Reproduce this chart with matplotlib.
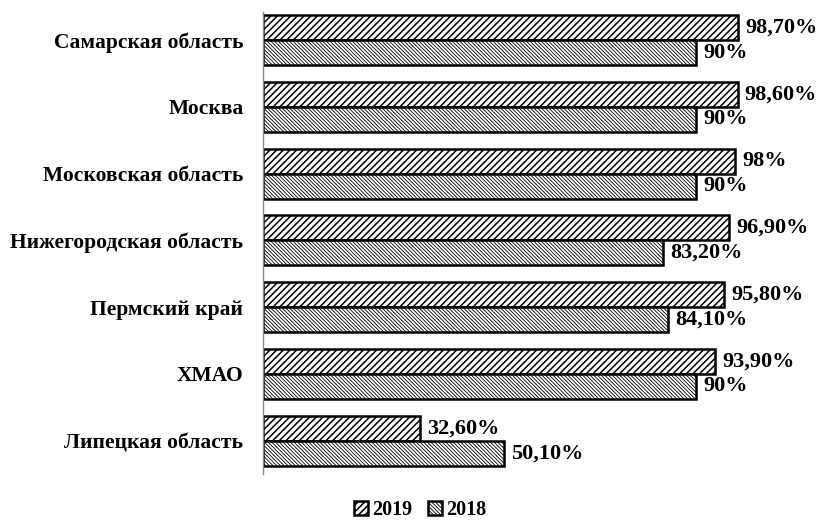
import matplotlib.pyplot as plt
import numpy as np

# regions listed top to bottom as on the chart
regions = ["Самарская область", "Москва", "Московская область",
           "Нижегородская область", "Пермский край", "ХМАО", "Липецкая область"]
vals_2019 = [98.7, 98.6, 98.0, 96.9, 95.8, 93.9, 32.6]
vals_2018 = [90.0, 90.0, 90.0, 83.2, 84.1, 90.0, 50.1]
labels_2019 = ["98,70%", "98,60%", "98%", "96,90%", "95,80%", "93,90%", "32,60%"]
labels_2018 = ["90%", "90%", "90%", "83,20%", "84,10%", "90%", "50,10%"]

plt.rcParams['font.family'] = ['Liberation Serif', 'DejaVu Serif']
plt.rcParams['font.weight'] = 'bold'
plt.rcParams['hatch.linewidth'] = 1.1

fig = plt.figure(figsize=(8.19, 5.2), dpi=100)
ax = fig.add_axes([0.321, 0.0885, 0.656, 0.888])

n = len(regions)
y = np.arange(n)[::-1]
h = 0.375

b19 = ax.barh(y + h / 2, vals_2019, height=h, color='white', edgecolor='black',
              linewidth=1.8, hatch='/////', label='2019')
b18 = ax.barh(y - h / 2, vals_2018, height=h, color='white', edgecolor='black',
              linewidth=1.8, hatch='\\' * 9, label='2018')
# thinner hatch lines for 2018 so it reads lighter
for p in b18:
    if hasattr(p, 'set_hatch_linewidth'):
        p.set_hatch_linewidth(0.6)

for yi, v, t in zip(y, vals_2019, labels_2019):
    ax.text(v + 1.5, yi + h / 2, t, va='center', ha='left', fontsize=16, fontweight='bold')
for yi, v, t in zip(y, vals_2018, labels_2018):
    ax.text(v + 1.5, yi - h / 2, t, va='center', ha='left', fontsize=16, fontweight='bold')

ax.set_xlim(0, 111.6)
ax.set_ylim(-0.5, 6.42)
ax.set_yticks(y)
ax.set_yticklabels(regions, fontsize=15.5, fontweight='bold')
ax.tick_params(axis='y', length=0, pad=14)
ax.set_xticks([])
for s in ['top', 'right', 'bottom']:
    ax.spines[s].set_visible(False)
ax.spines['left'].set_color('#888888')
ax.spines['left'].set_linewidth(1.0)

leg = fig.legend(loc='center', bbox_to_anchor=(0.513, 0.019), ncol=2, frameon=False,
                 handlelength=0.7, handleheight=0.7, handletextpad=0.2,
                 columnspacing=0.8, borderpad=0.1, prop={'weight': 'bold', 'size': 14.5})
for p in leg.get_patches()[1:]:
    if hasattr(p, 'set_hatch_linewidth'):
        p.set_hatch_linewidth(0.6)

fig.savefig("out.png", dpi=100)
